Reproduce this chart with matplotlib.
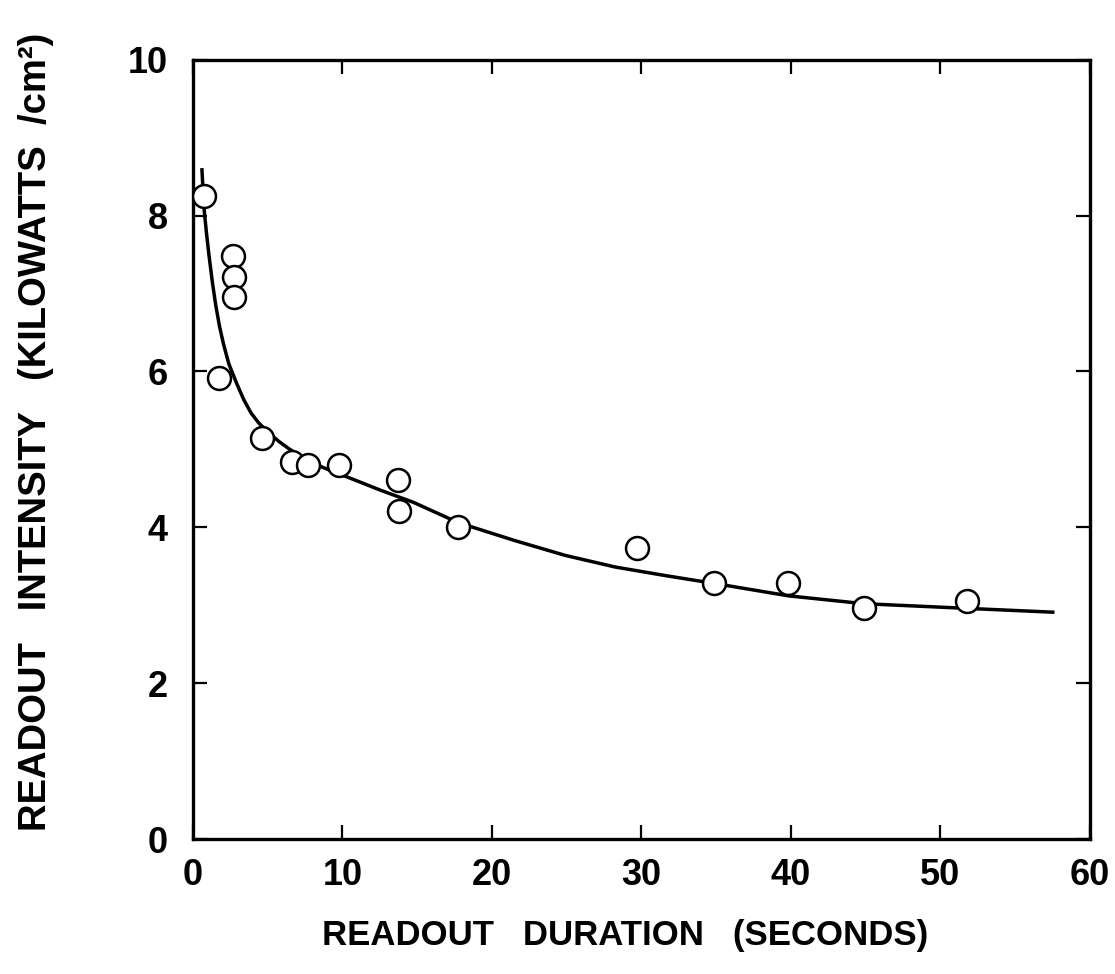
import matplotlib
matplotlib.use("Agg")
import matplotlib.pyplot as plt
from matplotlib import font_manager as fm


def pick_font(names):
    for n in names:
        try:
            fm.findfont(fm.FontProperties(family=n), fallback_to_default=False)
            return n
        except ValueError:
            pass
    return "DejaVu Sans"


DIGIT_FONT = pick_font(["Liberation Sans", "Arial", "DejaVu Sans"])
LABEL_FONT = pick_font(["Liberation Sans Narrow", "Liberation Sans", "DejaVu Sans"])

# Measured readout intensity versus readout duration
duration_s = [0.71, 2.68, 2.72, 2.72, 1.73, 4.65, 6.62, 7.67, 9.74, 13.71,
              13.78, 17.76, 29.73, 34.87, 39.82, 44.89, 51.75]
intensity_kw = [8.25, 7.48, 7.21, 6.95, 5.91, 5.14, 4.84, 4.80, 4.80, 4.61,
                4.21, 4.01, 3.73, 3.28, 3.29, 2.96, 3.05]

# Smooth fitted curve through the measurements
fit_x = [0.60, 0.74, 0.90, 1.07, 1.30, 1.52, 1.78, 2.05, 2.40, 2.92, 3.40,
         3.88, 4.40, 5.04, 5.70, 6.41, 7.50, 8.68, 10.93, 12.50, 14.76,
         17.75, 21.53, 24.90, 28.26, 31.62, 34.87, 39.86, 44.88, 51.76,
         57.63]
fit_y = [8.61, 8.10, 7.79, 7.50, 7.15, 6.86, 6.58, 6.35, 6.10, 5.85, 5.64,
         5.47, 5.34, 5.22, 5.11, 5.01, 4.88, 4.77, 4.60, 4.48, 4.32,
         4.06, 3.83, 3.64, 3.49, 3.38, 3.28, 3.12, 3.02, 2.96,
         2.91]

x_ticks = [0, 10, 20, 30, 40, 50, 60]
y_ticks = [0, 2, 4, 6, 8, 10]

fig = plt.figure(figsize=(11.15, 9.74), dpi=100)
ax = fig.add_axes([0.173, 0.1386, 0.8045, 0.800])

ax.plot(fit_x, fit_y, color="black", lw=2.5, solid_capstyle="butt",
        solid_joinstyle="round", zorder=2)
ax.plot(duration_s, intensity_kw, linestyle="none", marker="o",
        markersize=16.5, markerfacecolor="white", markeredgecolor="black",
        markeredgewidth=1.8, zorder=3)

ax.set_xlim(0, 60)
ax.set_ylim(0, 10)
ax.set_xticks(x_ticks)
ax.set_yticks(y_ticks)
ax.set_xticklabels([str(t) for t in x_ticks])
ax.set_yticklabels([str(t) for t in y_ticks])

for sp in ax.spines.values():
    sp.set_linewidth(2.4)
    sp.set_color("black")

ax.tick_params(axis="both", which="major", direction="in", length=10,
               width=1.6, top=True, right=True, color="black")
ax.tick_params(axis="x", pad=14)
ax.tick_params(axis="y", pad=18)
for lab in ax.get_xticklabels() + ax.get_yticklabels():
    lab.set_fontfamily(DIGIT_FONT)
    lab.set_fontweight("bold")
    lab.set_fontsize(26)

fig.text(0.561, 0.040, "READOUT   DURATION   (SECONDS)", ha="center",
         va="center", fontsize=25, fontweight="bold", family=LABEL_FONT)
fig.text(0.032, 0.557, "READOUT   INTENSITY   (KILOWATTS  /cm²)", ha="center",
         va="center", rotation=90, fontsize=27.5, fontweight="bold",
         family=LABEL_FONT)

fig.savefig("out.png", dpi=100, facecolor="white")
